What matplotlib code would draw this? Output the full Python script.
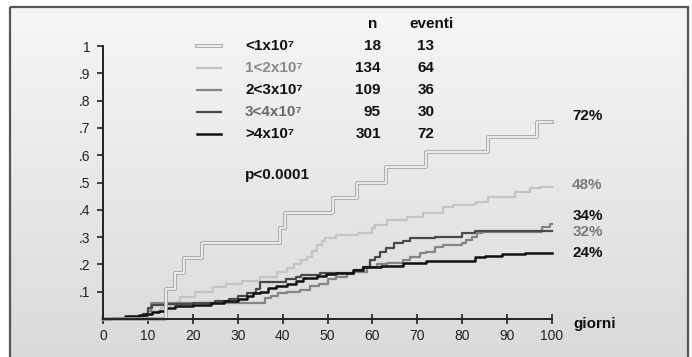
import numpy as np
import matplotlib
matplotlib.use("Agg")
import matplotlib.pyplot as plt
from matplotlib.patches import Rectangle
from matplotlib.lines import Line2D

plt.rcParams['font.family'] = ['Liberation Sans', 'DejaVu Sans']

# ---- data ----
groups = ["<1x10⁷", "1<2x10⁷", "2<3x10⁷", "3<4x10⁷", ">4x10⁷"]
n_pat = [18, 134, 109, 95, 301]
n_events = [13, 64, 36, 30, 72]
end_labels = ["72%", "48%", "34%", "32%", "24%"]
end_label_y = [0.745, 0.49, 0.378, 0.32, 0.242]

A_t = [0, 14, 16, 18, 22, 39.5, 40.5, 51.3, 56.6, 63.1, 71.9, 85.8, 96.7, 100]
A_v = [0, .111, .167, .222, .278, .333, .389, .444, .5, .556, .611, .667, .722, .722]

B_t = [0, 3, 6, 9, 11, 13, 15, 16.4, 17.2, 20.5, 24.5, 27.5, 31, 35, 38.7, 41, 42.5, 44,
       45.4, 46.5, 47.6, 48.7, 49.4, 52, 56.9, 59.8, 60.6, 63.2, 67.6, 71.3, 75.8, 78,
       82.8, 83.2, 85.8, 91.8, 95.1, 97.3, 100]
B_v = [0, .005, .01, .02, .03, .04, .05, .063, .08, .1, .118, .13, .14, .155, .173, .185,
       .2, .215, .228, .25, .271, .285, .295, .308, .315, .332, .344, .363, .375, .387,
       .411, .418, .424, .43, .448, .466, .479, .482, .482]

C_t = [0, 5, 9, 10, 10.8, 36, 37.5, 39, 41, 43.9, 46, 48, 50.2, 52, 54.3, 56, 58.7, 61,
       63.2, 66.9, 68.4, 70.6, 72, 73.9, 75.8, 79.9, 80.9, 82.1, 83.2, 84.3, 97.7, 99.5, 100]
C_v = [0, .005, .01, .03, .057, .076, .085, .095, .1, .106, .12, .13, .145, .155, .165,
       .173, .19, .2, .205, .216, .228, .24, .247, .265, .271, .28, .289, .301, .314, .32,
       .338, .348, .348]

D_t = [0, 9, 10, 11, 14, 20, 25, 28, 30, 32, 34, 35, 40.8, 43, 44, 48.3, 52, 56, 58,
       59.5, 60.6, 61.7, 63, 64.7, 66.9, 68.4, 74, 79.9, 82.8, 100]
D_v = [0, .02, .04, .05, .055, .06, .065, .075, .085, .095, .11, .137, .145, .155, .16,
       .167, .17, .18, .19, .216, .228, .247, .259, .277, .286, .295, .301, .314, .323, .323]

E_t = [0, 2, 5, 8, 9.5, 11, 12.5, 14, 16, 20, 24, 27, 30, 32, 33.5, 35, 36.8, 38.5, 40.9,
       43, 44.6, 47.7, 49.6, 52, 55.7, 58, 62, 66.9, 72, 82.8, 85, 88.8, 94, 100]
E_v = [0, .005, .01, .015, .02, .025, .03, .04, .048, .053, .057, .065, .075, .085, .094,
       .1, .112, .12, .13, .14, .149, .158, .165, .17, .18, .19, .195, .205, .214, .228,
       .232, .238, .243, .243]

x_ticks = [0, 10, 20, 30, 40, 50, 60, 70, 80, 90, 100]
y_ticks = [0.1, 0.2, 0.3, 0.4, 0.5, 0.6, 0.7, 0.8, 0.9, 1.0]
y_ticklabels = [".1", ".2", ".3", ".4", ".5", ".6", ".7", ".8", ".9", "1"]

# ---- figure ----
W, H = 692, 357
fig = plt.figure(figsize=(W / 100, H / 100), dpi=100)

bg = fig.add_axes([0, 0, 1, 1])
bg.axis('off')
fx0, fy0, fx1, fy1 = 10, 7, 688, 360
grad = np.linspace(0, 1, 200)[:, None]
top = np.array([0.965, 0.965, 0.965])
bot = np.array([0.855, 0.855, 0.855])
img = top[None, None, :] * (1 - grad[..., None]) + bot[None, None, :] * grad[..., None]
img = np.repeat(img, 2, axis=1)
bg.imshow(img, extent=[fx0, fx1, fy1, fy0], aspect='auto', zorder=0)
bg.add_patch(Rectangle((fx0, fy0), fx1 - fx0, fy1 - fy0, fill=False,
                       edgecolor='#555555', lw=1.6, zorder=1))
bg.set_xlim(0, W)
bg.set_ylim(H, 0)

ax = fig.add_axes([103 / W, (H - 319) / H, 449 / W, 273 / H])
ax.patch.set_alpha(0)
ax.set_xlim(0, 100)
ax.set_ylim(0, 1)
for s in ['top', 'right']:
    ax.spines[s].set_visible(False)
for s in ['left', 'bottom']:
    ax.spines[s].set_color('#222222')
    ax.spines[s].set_linewidth(1.4)
    ax.spines[s].set_zorder(6)
ax.set_xticks(x_ticks)
ax.set_xticklabels([str(v) for v in x_ticks], fontsize=10, color='#222222')
ax.set_yticks(y_ticks)
ax.set_yticklabels(y_ticklabels, fontsize=10, color='#222222')
ax.tick_params(axis='x', direction='inout', length=7, width=1.2, pad=4, color='#222222')
ax.tick_params(axis='y', direction='out', length=4, width=1.2, pad=5, color='#222222')

# curves
A_edge, A_lw = '#a6a6a6', 2.7
ax.step(A_t, A_v, where='post', color=A_edge, lw=A_lw, zorder=3, clip_on=False)
ax.step(A_t, A_v, where='post', color='white', lw=1.1, zorder=3.1, clip_on=False)
ax.step(B_t, B_v, where='post', color='#c4c4c4', lw=1.6, zorder=2, clip_on=False)
ax.step(C_t, C_v, where='post', color='#858585', lw=1.6, zorder=2.2, clip_on=False)
ax.step(D_t, D_v, where='post', color='#4a4a4a', lw=1.6, zorder=2.4, clip_on=False)
ax.step(E_t, E_v, where='post', color='#111111', lw=1.8, zorder=2.6, clip_on=False)

# legend block (pixel coords on bg)
row_y = [46, 68, 90, 112, 134]
label_colors = ['#111111', '#8a8a8a', '#111111', '#6a6a6a', '#111111']
styles = [(A_edge, A_lw), ('#c4c4c4', 1.6), ('#858585', 1.6), ('#4a4a4a', 1.6), ('#111111', 1.8)]
for i, y in enumerate(row_y):
    c, lw = styles[i]
    bg.add_line(Line2D([197, 221], [y, y], color=c, lw=lw, zorder=3))
    if i == 0:
        bg.add_line(Line2D([197, 221], [y, y], color='white', lw=1.1, zorder=3.1))
    bg.text(245, y, groups[i], fontsize=11, fontweight='bold', color=label_colors[i],
            va='center', ha='left', zorder=4)
    bg.text(381, y, str(n_pat[i]), fontsize=11, fontweight='bold', color='#111111',
            va='center', ha='right', zorder=4)
    bg.text(426, y, str(n_events[i]), fontsize=11, fontweight='bold', color='#111111',
            va='center', ha='center', zorder=4)
bg.text(372.5, 24, "n", fontsize=11, fontweight='bold', color='#111111', va='center', ha='center')
bg.text(432, 24, "eventi", fontsize=11, fontweight='bold', color='#111111', va='center', ha='center')
bg.text(245, 175, "p<0.0001", fontsize=11, fontweight='bold', color='#111111', va='center', ha='left')

end_colors = ['#111111', '#7a7a7a', '#111111', '#7a7a7a', '#111111']
for lab, yv, c in zip(end_labels, end_label_y, end_colors):
    ax.text(104.5, yv, lab, fontsize=11, fontweight='bold', color=c, va='center', ha='left',
            clip_on=False)
bg.text(573, 324, "giorni", fontsize=11, fontweight='bold', color='#111111', va='center', ha='left')

fig.savefig("out.png", dpi=100)
